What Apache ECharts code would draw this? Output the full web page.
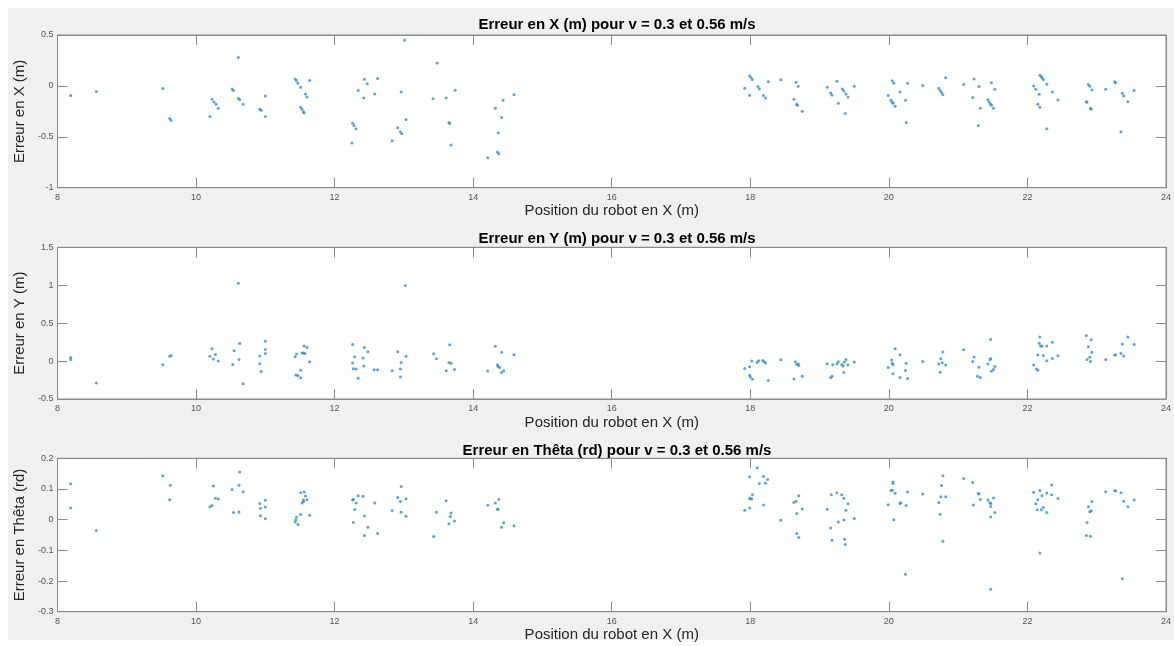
<!DOCTYPE html>
<html>
<head>
<meta charset="utf-8">
<script src="https://cdn.jsdelivr.net/npm/echarts@6/dist/echarts.min.js"></script>
<style>
html,body{margin:0;padding:0;background:#fff;}
#bg{position:absolute;left:8px;top:8px;width:1166px;height:632px;background:#f0f0f0;}
#chart{position:absolute;left:0;top:0;width:1174px;height:646px;}
</style>
</head>
<body>
<div id="bg"></div>
<div id="chart"></div>
<script>
// ---- Data ----
const titles = [
  'Erreur en X (m) pour v = 0.3 et 0.56 m/s',
  'Erreur en Y (m) pour v = 0.3 et 0.56 m/s',
  'Erreur en Thêta (rd) pour v = 0.3 et 0.56 m/s'
];
const yNames = ['Erreur en X (m)', 'Erreur en Y (m)', 'Erreur en Thêta (rd)'];
const xName = 'Position du robot en X (m)';
const xTicks = [8, 10, 12, 14, 16, 18, 20, 22, 24];
const yTicksX = [-1, -0.5, 0, 0.5];
const yTicksY = [-0.5, 0, 0.5, 1, 1.5];
const yTicksT = [-0.3, -0.2, -0.1, 0, 0.1, 0.2];

const posErrX = [8.19,8.56,9.52,9.62,9.64,10.20,10.23,10.26,10.29,10.32,10.52,10.54,10.61,10.61,10.63,10.68,10.92,10.94,11.00,11.00,11.43,11.45,11.47,11.51,11.51,11.53,11.55,11.56,11.58,11.60,11.64,12.26,12.28,12.31,12.25,12.34,12.43,12.42,12.47,12.58,12.62,12.83,12.91,12.95,12.97,12.96,13.01,13.03,13.42,13.48,13.61,13.65,13.66,13.68,13.74,14.21,14.32,14.36,14.35,14.37,14.41,14.43,14.59,
  17.92,17.99,18.01,18.03,17.99,18.11,18.13,18.19,18.22,18.26,18.44,18.66,18.69,18.63,18.67,18.68,18.75,19.11,19.16,19.18,19.25,19.27,19.33,19.35,19.38,19.41,19.37,19.50,19.99,20.05,20.07,20.03,20.05,20.06,20.09,20.16,20.24,20.25,20.27,20.49,20.72,20.74,20.76,20.78,20.82,21.08,21.21,21.23,21.30,21.29,21.32,21.43,21.45,21.47,21.48,21.48,21.51,21.53,22.09,22.12,22.18,22.20,22.21,22.23,22.28,22.17,22.15,22.18,22.28,22.36,22.44,22.88,22.90,22.93,22.85,22.86,22.91,22.92,23.13,23.26,23.27,23.37,23.39,23.35,23.45,23.54];
const errX = [-0.095,-0.056,-0.026,-0.32,-0.34,-0.30,-0.13,-0.157,-0.18,-0.22,-0.03,-0.046,0.278,-0.124,-0.134,-0.18,-0.23,-0.24,-0.098,-0.30,0.069,0.052,0.026,-0.013,-0.21,-0.23,-0.255,-0.265,-0.08,-0.11,0.052,-0.366,-0.39,-0.42,-0.56,-0.046,0.065,-0.12,0.02,-0.08,0.072,-0.54,-0.41,-0.45,-0.47,-0.06,0.448,-0.33,-0.127,0.225,-0.118,-0.36,-0.37,-0.58,-0.042,-0.706,-0.22,-0.46,-0.65,-0.667,-0.31,-0.14,-0.088,
  -0.023,0.10,0.082,0.063,-0.092,-0.007,-0.03,-0.095,-0.12,0.04,0.06,0.036,-0.003,-0.13,-0.18,-0.19,-0.25,-0.013,-0.07,-0.09,0.046,-0.17,-0.03,-0.05,-0.08,-0.11,-0.27,-0.003,-0.095,0.05,0.026,-0.14,-0.16,-0.17,-0.20,-0.06,-0.14,-0.36,0.026,0.003,-0.023,-0.046,-0.066,-0.086,0.079,0.013,-0.115,0.069,-0.007,-0.39,-0.22,-0.135,-0.16,-0.18,0.03,-0.19,-0.22,-0.033,0,-0.033,0.105,0.092,0.079,0.063,0.016,-0.082,-0.18,-0.21,-0.42,-0.06,-0.138,0.013,-0.003,-0.04,-0.155,-0.16,-0.22,-0.23,-0.033,0.04,0.03,-0.072,-0.1,-0.45,-0.155,-0.046];

const posErrY = [8.19,8.19,8.56,9.52,9.62,9.64,10.20,10.23,10.28,10.25,10.32,10.53,10.55,10.61,10.63,10.62,10.68,10.92,10.92,10.94,11.00,11.00,11.00,11.43,11.45,11.44,11.47,11.51,11.51,11.53,11.55,11.56,11.57,11.60,11.64,12.26,12.29,12.26,12.27,12.31,12.34,12.41,12.43,12.42,12.48,12.57,12.62,12.83,12.91,12.95,12.95,12.96,13.02,13.03,13.43,13.47,13.61,13.66,13.65,13.68,13.73,14.21,14.32,14.35,14.36,14.38,14.41,14.41,14.44,14.59,
  17.92,17.99,17.99,18.00,18.03,18.02,18.10,18.12,18.18,18.20,18.22,18.26,18.44,18.63,18.65,18.67,18.69,18.70,18.75,19.11,19.16,19.18,19.19,19.25,19.27,19.32,19.34,19.36,19.38,19.35,19.41,19.50,19.99,20.04,20.05,20.06,20.06,20.09,20.16,20.16,20.24,20.25,20.27,20.49,20.72,20.75,20.78,20.77,20.74,20.82,21.08,21.21,21.23,21.30,21.28,21.32,21.43,21.46,21.47,21.47,21.48,21.51,21.53,22.09,22.13,22.15,22.15,22.18,22.17,22.19,22.21,22.23,22.28,22.28,22.36,22.36,22.44,22.85,22.88,22.92,22.93,22.90,22.86,22.91,23.13,23.26,23.27,23.35,23.37,23.39,23.45,23.54];
const errY = [0.048,0.022,-0.29,-0.048,0.062,0.075,0.062,0.163,0.088,0.026,0,-0.044,0.137,1.026,0.233,0.022,-0.30,-0.035,0.066,-0.137,0.26,0.154,0.10,0.057,0.092,-0.185,-0.19,-0.12,-0.22,0.106,0.106,0.20,0.10,0.18,-0.01,0.22,0.057,-0.026,-0.10,-0.106,-0.225,0.04,0.18,-0.066,0.123,-0.115,-0.115,-0.128,0.123,-0.106,-0.21,-0.018,0.996,0.062,0.097,0.03,-0.128,0.216,-0.018,-0.03,-0.11,-0.132,0.194,-0.048,-0.07,-0.084,0.115,-0.15,-0.128,0.084,
  -0.097,-0.075,-0.186,-0.21,-0.24,0,-0.018,0.004,0.009,-0.009,-0.027,-0.257,0.018,-0.235,-0.009,-0.044,-0.04,-0.057,-0.2,-0.035,-0.22,-0.2,-0.049,-0.035,-0.009,-0.044,-0.066,-0.013,0.022,-0.15,-0.053,-0.013,-0.084,0.013,-0.03,-0.049,-0.168,0.164,0.084,-0.217,-0.124,-0.03,-0.23,-0.004,-0.04,0.031,0.12,-0.022,-0.146,-0.053,0.15,-0.004,0.053,-0.08,-0.2,-0.217,-0.04,0.018,0.035,0.283,-0.133,-0.11,-0.07,-0.053,-0.106,-0.12,0.08,0.318,0.234,0.2,0.2,0.075,0.004,0.2,0.248,0.035,0.07,0.336,0.19,0.28,0.115,0.049,0.022,-0.004,0.022,0.08,0.08,0.1,0.226,0.066,0.318,0.22];

const posErrT = [8.19,8.19,8.56,9.52,9.63,9.62,10.20,10.23,10.25,10.28,10.32,10.52,10.54,10.62,10.63,10.62,10.68,10.92,10.93,10.93,11.00,11.00,11.00,11.43,11.44,11.45,11.47,11.51,11.51,11.53,11.55,11.55,11.56,11.58,11.60,11.64,12.26,12.27,12.27,12.29,12.31,12.34,12.41,12.43,12.43,12.48,12.58,12.62,12.83,12.91,12.95,12.96,12.96,13.03,13.03,13.43,13.47,13.61,13.68,13.67,13.65,13.73,14.21,14.32,14.37,14.35,14.36,14.41,14.44,14.59,
  17.92,17.99,17.99,17.99,18.00,18.02,18.03,18.10,18.13,18.19,18.22,18.25,18.19,18.44,18.63,18.66,18.70,18.67,18.75,18.67,18.70,19.11,19.17,19.25,19.16,19.27,19.18,19.32,19.35,19.41,19.38,19.35,19.36,19.37,19.50,19.99,20.03,20.05,20.06,20.06,20.09,20.07,20.16,20.17,20.25,20.27,20.24,20.49,20.72,20.75,20.76,20.78,20.74,20.78,20.82,21.08,21.21,21.22,21.29,21.30,21.32,21.43,21.46,21.47,21.47,21.51,21.53,21.47,21.47,22.09,22.12,22.15,22.18,22.21,22.14,22.20,22.23,22.28,22.28,22.35,22.35,22.44,22.18,22.86,22.85,22.91,22.88,22.90,22.92,22.93,23.13,23.26,23.27,23.35,23.39,23.45,23.54,23.37];
const errT = [0.117,0.038,-0.035,0.143,0.112,0.065,0.042,0.046,0.11,0.07,0.067,0.098,0.023,0.112,0.155,0.025,0.091,0.053,0.037,0.013,0.063,0.041,0.003,-0.008,0,0.009,-0.016,0.088,0.017,0.054,0.059,0.064,0.09,0.077,0.065,0.014,0.064,0.066,-0.009,0.033,0.054,0.078,0.076,0.012,-0.052,-0.025,0.054,-0.045,0.03,0.072,0.059,0.108,0.024,0.068,0.011,-0.055,0.024,0.062,0.022,0.01,-0.013,-0.004,0.047,0.054,0.066,0.034,0.034,-0.025,-0.01,-0.02,
  0.031,0.038,0.14,0.07,0.068,0.067,0.081,0.169,0.118,0.141,0.119,0.131,0.048,-0.002,0.056,0.06,0.078,0.02,0.035,-0.045,-0.058,0.034,0.081,0.088,-0.027,-0.008,-0.067,0.081,0.07,0.052,0.031,-0.001,-0.064,-0.081,0.004,0.049,0.095,0.096,0.118,0.123,0.086,0,0.053,0.055,0.046,0.09,-0.178,0.084,0.056,0.075,0.111,0.143,0.018,-0.07,0.075,0.134,0.121,0.048,0.085,0.084,0.066,0.064,0.055,0.053,0.043,0.071,0.023,0.009,-0.227,0.089,0.052,0.065,0.095,0.078,0.032,0.032,0.04,0.087,0.023,0.113,0.081,0.069,-0.109,-0.009,-0.052,-0.054,0.042,0.026,0.029,0.059,0.091,0.094,0.094,0.088,0.06,0.042,0.064,-0.193];

// ---- Layout ----
const panels = [
  {pos: posErrX, val: errX, ticks: yTicksX, top: 35, height: 152.7, titleTop: 12},
  {pos: posErrY, val: errY, ticks: yTicksY, top: 247.3, height: 151.7, titleTop: 226},
  {pos: posErrT, val: errT, ticks: yTicksT, top: 458.3, height: 153.4, titleTop: 438}
];
const GRID_LEFT = 57.5, GRID_RIGHT = 8;
const BORDER = '#8a8a8a';
const LABEL = {color: '#555', fontSize: 9, fontFamily: 'Liberation Sans, Arial, sans-serif'};
const fmt = v => String(Math.round(v * 1000) / 1000);

const grid = [], xAxis = [], yAxis = [], series = [], title = [];
panels.forEach((p, i) => {
  grid.push({left: GRID_LEFT, right: GRID_RIGHT, top: p.top, height: p.height, show: true,
    backgroundColor: '#fff', borderColor: BORDER, borderWidth: 1});
  const xmin = xTicks[0], xmax = xTicks[xTicks.length - 1], xint = xTicks[1] - xTicks[0];
  const ymin = p.ticks[0], ymax = p.ticks[p.ticks.length - 1];
  const yint = Math.round((p.ticks[1] - p.ticks[0]) * 1000) / 1000;
  const tick = {show: true, inside: true, length: 10, lineStyle: {color: BORDER}};
  const line = {show: true, onZero: false, lineStyle: {color: BORDER}};
  xAxis.push({type: 'value', gridIndex: i, position: 'bottom', min: xmin, max: xmax, interval: xint,
    axisLine: line, axisTick: tick, splitLine: {show: false},
    axisLabel: Object.assign({margin: 5, formatter: fmt}, LABEL),
    name: xName, nameLocation: 'middle', nameGap: 16,
    nameTextStyle: {color: '#262626', fontSize: 15, fontFamily: 'Liberation Sans, Arial, sans-serif'}});
  xAxis.push({type: 'value', gridIndex: i, position: 'top', min: xmin, max: xmax, interval: xint,
    axisLine: line, axisTick: tick, splitLine: {show: false},
    axisLabel: {show: false}});
  yAxis.push({type: 'value', gridIndex: i, position: 'left', min: ymin, max: ymax, interval: yint,
    axisLine: line, axisTick: tick, splitLine: {show: false},
    axisLabel: Object.assign({margin: 4, formatter: fmt}, LABEL),
    name: yNames[i], nameLocation: 'middle', nameGap: 25,
    nameTextStyle: {color: '#262626', fontSize: 15, fontFamily: 'Liberation Sans, Arial, sans-serif'}});
  yAxis.push({type: 'value', gridIndex: i, position: 'right', min: ymin, max: ymax, interval: yint,
    axisLine: line, axisTick: tick, splitLine: {show: false},
    axisLabel: {show: false}});
  series.push({type: 'scatter', xAxisIndex: 2 * i, yAxisIndex: 2 * i, symbol: 'circle', symbolSize: 3,
    itemStyle: {color: '#2e8fdb'}, silent: true, animation: false,
    data: p.pos.map((x, k) => [x, p.val[k]])});
  title.push({text: titles[i], left: 612, top: p.titleTop, textAlign: 'center',
    textStyle: {color: '#000', fontSize: 15, fontWeight: 'bold', fontFamily: 'Liberation Sans, Arial, sans-serif'}});
});

const chart = echarts.init(document.getElementById('chart'), null, {renderer: 'canvas'});
chart.setOption({backgroundColor: 'transparent', animation: false, title, grid, xAxis, yAxis, series});
</script>
</body>
</html>
